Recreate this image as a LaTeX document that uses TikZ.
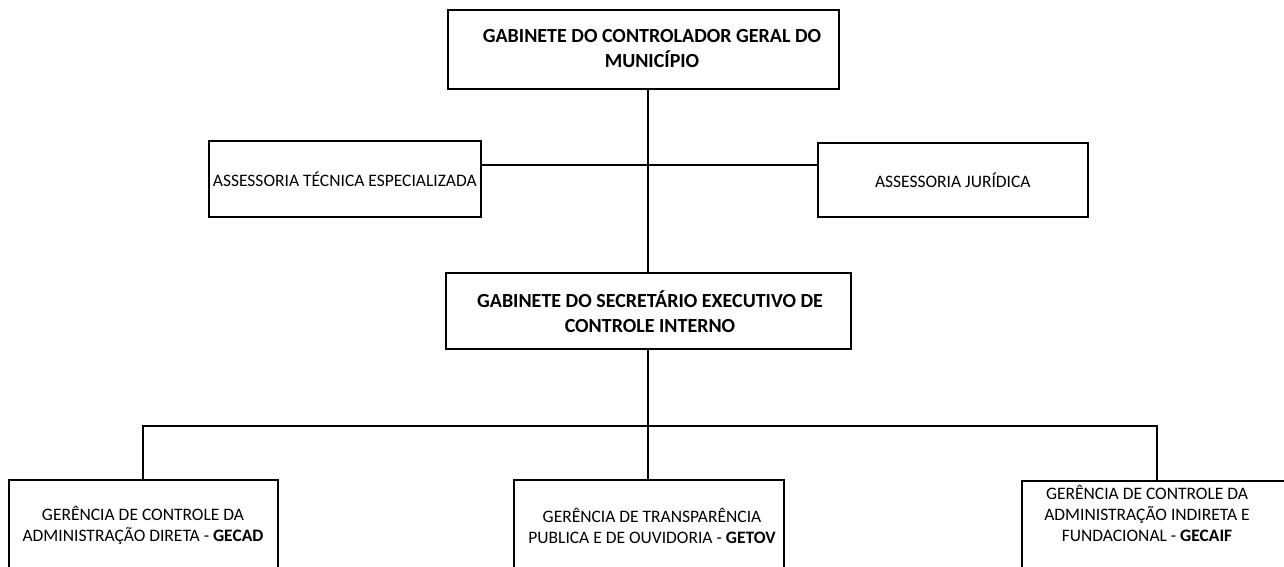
\documentclass[tikz,border=0pt]{standalone}
\usepackage{fontspec}
\setmainfont{Carlito}
\begin{document}
\begin{tikzpicture}[x=1pt,y=-1pt,
 box/.style={draw, line width=1.6pt, rectangle, inner sep=0pt, anchor=north west},
 conn/.style={line width=1.6pt},
 btitle/.style={font=\fontsize{20}{25}\selectfont\bfseries, align=center},
 small/.style={font=\fontsize{17.5}{21}\selectfont, align=center},
]
\useasboundingbox (0,0) rectangle (1284,567);
\clip (0,0) rectangle (1284,567);
\node[box, minimum width=391pt, minimum height=79pt] (top) at (447,9) {};
\node[btitle] (toptext) at (652,49) {GABINETE DO CONTROLADOR GERAL DO\\MUNICÍPIO};
\node[box, small, minimum width=272pt, minimum height=76pt] (ate) at (208,140) {ASSESSORIA TÉCNICA ESPECIALIZADA};
\node[box, small, minimum width=270pt, minimum height=74pt] (aj) at (817,142) {ASSESSORIA JURÍDICA};
\node[box, minimum width=405pt, minimum height=76pt] (sec) at (445,272) {};
\node[btitle] (sectext) at (650,312) {GABINETE DO SECRETÁRIO EXECUTIVO DE\\CONTROLE INTERNO};
\node[box, minimum width=269pt, minimum height=120pt] (b1) at (8,479) {};
\node[box, minimum width=270pt, minimum height=120pt] (b2) at (513,479) {};
\node[box, minimum width=320pt, minimum height=120pt] (b3) at (1021,480) {};
\node[small] (b1t) at (143,525) {GERÊNCIA DE CONTROLE DA\\ADMINISTRAÇÃO DIRETA - \textbf{GECAD}};
\node[small] (b2t) at (652,526) {GERÊNCIA DE TRANSPARÊNCIA\\PUBLICA E DE OUVIDORIA - \textbf{GETOV}};
\node[small] (b3t) at (1147,513) {GERÊNCIA DE CONTROLE DA\\ADMINISTRAÇÃO INDIRETA E\\FUNDACIONAL - \textbf{GECAIF}};
\coordinate (j1) at (648,165);
\coordinate (bus) at (648,426);
\coordinate (busL) at (143,426);
\coordinate (busR) at (1157,426);
\draw[conn] (top.south -| j1) -- (sec.north -| j1);
\draw[conn] (ate.east |- j1) -- (aj.west |- j1);
\draw[conn] (sec.south -| bus) -- (bus);
\draw[conn] (b1.north -| busL) -- (busL) -- (busR) -- (b3.north -| busR);
\draw[conn] (bus) -- (b2.north -| bus);
\end{tikzpicture}
\end{document}
